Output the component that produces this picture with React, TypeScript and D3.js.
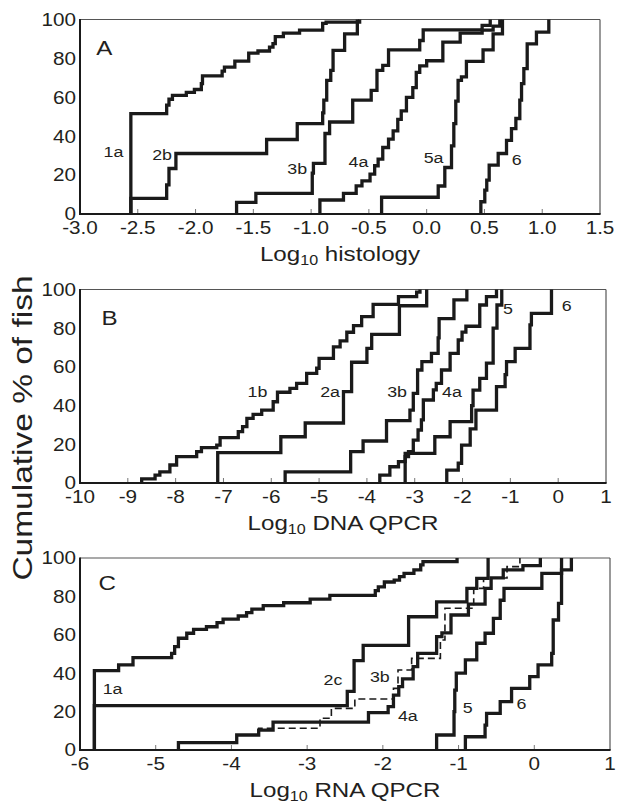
import React from 'react';
import * as d3 from 'd3';

type Pt = [number, number];
type Lbl = [string, number, number];

// Panel A: log10 histology. Each point is [log value, cumulative % reached at that value]
const histo1a: Pt[] = [
  [-2.56, 51.6], [-2.25, 56], [-2.23, 59], [-2.2, 61], [-2.08, 62.5], [-2.01, 64], [-1.95, 67], [-1.94, 71],
  [-1.77, 73.5], [-1.75, 75.5], [-1.66, 78.6], [-1.54, 82.7], [-1.46, 83.8], [-1.36, 85.8], [-1.33, 87.6],
  [-1.31, 91.2], [-1.24, 93], [-1.1, 94.5], [-0.9, 98], [-0.87, 98.7], [-0.58, 100],
];
const histo2b: Pt[] = [
  [-2.56, 8], [-2.25, 15], [-2.23, 23.4], [-2.17, 31.1], [-1.385, 38.3], [-1.12, 46.5], [-0.9, 52],
  [-0.89, 58.5], [-0.865, 68.7], [-0.83, 73.8], [-0.81, 84.1], [-0.71, 92.6], [-0.6, 100],
];
const histo3b: Pt[] = [
  [-1.645, 6], [-1.478, 10.6], [-0.99, 21], [-0.98, 26], [-0.88, 41.4], [-0.84, 47.3], [-0.64, 58.5],
  [-0.48, 63.6], [-0.43, 73.8], [-0.38, 76.4], [-0.33, 84.4], [-0.06, 89.2], [-0.03, 94.7], [0.48, 97], [0.55, 100],
];
const histo4a: Pt[] = [
  [-0.924, 7.2], [-0.72, 10.6], [-0.61, 14.5], [-0.56, 17], [-0.49, 20.5], [-0.45, 24.8], [-0.42, 28.2],
  [-0.38, 34.2], [-0.33, 38.5], [-0.29, 42.7], [-0.25, 48.7], [-0.22, 53], [-0.175, 60], [-0.12, 65],
  [-0.09, 72.8], [-0.06, 76.2], [0.0, 78.8], [0.14, 88.4], [0.29, 93], [0.48, 94.5], [0.575, 96.6], [0.633, 100],
];
const histo5a: Pt[] = [
  [-0.39, 8.6], [0.1, 14.4], [0.157, 23.9], [0.215, 35], [0.235, 46.5], [0.252, 58], [0.272, 68.7],
  [0.301, 70.5], [0.344, 78.5], [0.488, 84.4], [0.575, 92.6], [0.656, 100],
];
const histo6: Pt[] = [
  [0.469, 6.3], [0.503, 12.3], [0.52, 17.4], [0.541, 25.1], [0.619, 31.1], [0.691, 37.9], [0.734, 43.9],
  [0.772, 49.1], [0.806, 58.5], [0.821, 67], [0.841, 74.7], [0.87, 87.5], [0.95, 93.5], [1.057, 100],
];

// Panel B: log10 DNA QPCR
const dna1b: Pt[] = [
  [-8.71, 2.1], [-8.43, 4.1], [-8.33, 5.8], [-8.12, 9.3], [-7.98, 13.6], [-7.56, 16.2], [-7.46, 18.3],
  [-7.14, 19.6], [-7.07, 23.4], [-6.69, 26.5], [-6.6, 29.1], [-6.51, 33.4], [-6.38, 35.5], [-6.2, 37.7],
  [-5.96, 42], [-5.87, 46.9], [-5.61, 48.9], [-5.47, 51.5], [-5.26, 56.7], [-5.05, 59.3], [-5.0, 64.4],
  [-4.7, 70.4], [-4.56, 73.4], [-4.42, 77.9], [-4.28, 81.3], [-4.11, 86], [-3.87, 92.3], [-3.34, 96.3],
  [-2.96, 98.6], [-2.89, 100],
];
const dna2a: Pt[] = [
  [-7.12, 15.7], [-5.8, 23.9], [-5.29, 31], [-4.49, 47.2], [-4.32, 62.4], [-4.0, 69.6], [-3.9, 76.8],
  [-3.32, 91.6], [-2.75, 100],
];
const dna3b: Pt[] = [
  [-5.71, 5.8], [-4.34, 16.2], [-4.08, 21.7], [-3.59, 32.2], [-3.1, 37.7], [-3.03, 46.3], [-2.94, 58.4],
  [-2.85, 62.7], [-2.65, 67], [-2.51, 75], [-2.49, 85], [-2.18, 94.6], [-1.91, 100],
];
const dna4a: Pt[] = [
  [-3.73, 4.1], [-3.52, 8.4], [-3.34, 11], [-3.2, 13.6], [-3.13, 16.2], [-3.03, 22.2], [-2.93, 27.4],
  [-2.86, 32.6], [-2.82, 42.9], [-2.61, 48.1], [-2.55, 51.5], [-2.44, 58.4], [-2.26, 67], [-2.09, 73.9],
  [-2.01, 78], [-1.93, 81], [-1.64, 92], [-1.5, 96.3], [-1.29, 100],
];
const dna5: Pt[] = [
  [-3.2, 15.3], [-2.58, 23.9], [-2.26, 31.7], [-1.81, 40], [-1.78, 48], [-1.64, 54.1], [-1.5, 61.9],
  [-1.36, 80], [-1.28, 92], [-1.18, 100],
];
const dna6: Pt[] = [
  [-2.33, 6.7], [-2.09, 10.2], [-2.02, 19.6], [-1.84, 28], [-1.72, 37.7], [-1.29, 49.8], [-1.11, 56],
  [-1.08, 62.7], [-0.9, 69.6], [-0.59, 81.7], [-0.56, 87.7], [-0.14, 100],
];

// Panel C: log10 RNA QPCR
const rna1a: Pt[] = [
  [-5.81, 41.3], [-5.49, 44.3], [-5.3, 48.1], [-4.79, 50.3], [-4.75, 53.8], [-4.7, 58.2], [-4.59, 60.8],
  [-4.5, 62.8], [-4.33, 64.2], [-4.19, 66.3], [-4.11, 68.2], [-3.91, 69.8], [-3.8, 71.5], [-3.73, 73.4],
  [-3.58, 75.2], [-3.31, 76.7], [-2.96, 78.6], [-2.7, 80.5], [-2.1, 83], [-2.06, 85], [-1.98, 87.5],
  [-1.85, 88.5], [-1.78, 90.3], [-1.72, 92], [-1.59, 93.8], [-1.5, 96.4], [-1.47, 98.1], [-1.02, 100],
];
const rna2c: Pt[] = [
  [-5.81, 23.1], [-2.47, 30.5], [-2.38, 46.5], [-2.26, 54.5], [-1.66, 69.4], [-1.29, 77.2], [-0.89, 84.2],
  [-0.76, 89.4], [-0.61, 100],
];
const rna3b: Pt[] = [
  [-4.7, 3.8], [-3.93, 7.8], [-3.64, 11.3], [-2.83, 16.5], [-2.68, 21.7], [-2.37, 26.6], [-1.86, 32.1],
  [-1.8, 41.7], [-1.62, 47.7], [-1.24, 57.3], [-1.18, 73.8], [-0.8, 84.2], [-0.67, 89.6], [-0.36, 95.5],
  [-0.19, 100],
];
const rna4a: Pt[] = [
  [-4.7, 3.8], [-3.93, 7.8], [-3.64, 10.4], [-3.45, 14.5], [-2.19, 19.5], [-1.93, 22.6], [-1.86, 28.6],
  [-1.79, 33], [-1.74, 37], [-1.6, 43.4], [-1.54, 50.3], [-1.29, 59], [-1.22, 61], [-1.1, 70.3],
  [-0.87, 76], [-0.65, 84.2], [-0.57, 89.6], [-0.41, 93.8], [-0.15, 96], [0.08, 100],
];
const rna5: Pt[] = [
  [-1.29, 7.8], [-1.06, 20], [-1.05, 31.2], [-1.03, 40], [-0.91, 46.9], [-0.76, 55.6], [-0.65, 60.8],
  [-0.54, 68.6], [-0.45, 78], [-0.4, 84.2], [0.1, 92], [0.36, 100],
];
const rna6: Pt[] = [
  [-0.91, 6.9], [-0.65, 13], [-0.63, 19.1], [-0.45, 25.2], [-0.3, 32.1], [-0.06, 38.2], [0.05, 44.3],
  [0.23, 50.3], [0.25, 67.7], [0.32, 76.4], [0.36, 93.8], [0.49, 100],
];

// curve labels, in data units
const labelsA: Lbl[] = [['A', -2.79, 85.4], ['1a', -2.71, 32.3], ['2b', -2.29, 30.8], ['3b', -1.12, 23.6], ['4a', -0.59, 27.2], ['5a', 0.06, 29.2], ['6', 0.78, 28.2]];
const labelsB: Lbl[] = [['B', -9.38, 85.5], ['1b', -6.29, 47.5], ['2a', -4.77, 47], ['3b', -3.37, 47], ['4a', -2.22, 47], ['5', -1.05, 90], ['6', 0.18, 91.5]];
const labelsC: Lbl[] = [['C', -5.64, 87.2], ['1a', -5.57, 31.8], ['2c', -2.66, 36.5], ['3b', -2.04, 38.3], ['4a', -1.67, 17.7], ['5', -0.88, 22.1], ['6', -0.17, 24.2]];

const ticksA = [-3.0, -2.5, -2.0, -1.5, -1.0, -0.5, 0.0, 0.5, 1.0, 1.5];
const ticksB = [-10, -9, -8, -7, -6, -5, -4, -3, -2, -1, 0, 1];
const ticksC = [-6, -5, -4, -3, -2, -1, 0, 1];
const yTicks = [0, 20, 40, 60, 80, 100];

const FONT = 'Helvetica, Arial, "Liberation Sans", sans-serif';
const INK = '#231f20';
const WIDE = 1.15;

const Txt = ({ x, y, size, anchor = 'middle', rot = 0, sx = WIDE, dy = '0.35em', children }: any) => (
  <g transform={`translate(${x},${y}) rotate(${rot}) scale(${sx},1)`}>
    <text textAnchor={anchor} fontSize={size} fontFamily={FONT} fill={INK} dy={dy}>{children}</text>
  </g>
);

function Panel({ left, right, top, bottom, domain, ticks, fmt, title, series, labels }: any) {
  const x = d3.scaleLinear().domain(domain).range([left, right]);
  const y = d3.scaleLinear().domain([0, 100]).range([bottom, top]);
  const line = d3.line<Pt>().x(d => x(d[0])).y(d => y(d[1])).curve(d3.curveStepAfter);
  const mid = (left + right) / 2;

  return (
    <g>
      {/* frame: light top/right, heavier axes */}
      <line x1={left} x2={right} y1={top} y2={top} stroke="#555" strokeWidth={1.2} />
      <line x1={right} x2={right} y1={top} y2={bottom} stroke="#555" strokeWidth={1.2} />
      {ticks.slice(1, -1).map((t: number) => (
        <line key={t} x1={x(t)} x2={x(t)} y1={bottom} y2={bottom - 5} stroke="#777" strokeWidth={1} />
      ))}
      {series.map((s: any) => (
        <path key={s.name} d={line([[s.data[0][0], 0], ...s.data]) || ''} fill="none" stroke="#1a1a1a"
          strokeWidth={s.dashed ? 1.6 : 3.3} strokeDasharray={s.dashed ? '7 4' : undefined}
          strokeLinejoin="miter" strokeLinecap="butt" />
      ))}
      <line x1={left} x2={left} y1={top - 0.6} y2={bottom + 1} stroke="#1a1a1a" strokeWidth={2} />
      <line x1={left - 1} x2={right + 0.6} y1={bottom} y2={bottom} stroke="#1a1a1a" strokeWidth={2} />

      {yTicks.map(t => (
        <Txt key={t} x={left - 4} y={y(t)} size={18} anchor="end">{t}</Txt>
      ))}
      {ticks.map((t: number) => (
        <Txt key={t} x={x(t)} y={bottom + 14} size={18}>{fmt(t)}</Txt>
      ))}
      {labels.map((l: Lbl) => (
        <Txt key={l[0]} x={x(l[1])} y={y(l[2])} size={/^[A-C]$/.test(l[0]) ? 21 : 15.5}>{l[0]}</Txt>
      ))}
      <g transform={`translate(${mid},${bottom + 47}) scale(${WIDE},1)`}>
        <text textAnchor="middle" fontSize={21} fontFamily={FONT} fill={INK}>
          <tspan>Log</tspan>
          <tspan fontSize={14} dy={4}>10</tspan>
          <tspan dy={-4}>{' ' + title}</tspan>
        </text>
      </g>
    </g>
  );
}

export default function App() {
  return (
    <svg width={619} height={803} style={{ position: 'absolute', left: 0, top: 0, background: '#fff' }}>
      <Panel left={80} right={600} top={19.5} bottom={214} domain={[-3, 1.5]} ticks={ticksA}
        fmt={(v: number) => v.toFixed(1)} title="histology" labels={labelsA}
        series={[
          { name: '1a', data: histo1a }, { name: '2b', data: histo2b }, { name: '3b', data: histo3b },
          { name: '4a', data: histo4a }, { name: '5a', data: histo5a }, { name: '6', data: histo6 },
        ]} />
      <Panel left={80} right={606} top={289.5} bottom={483} domain={[-10, 1]} ticks={ticksB}
        fmt={(v: number) => String(v)} title="DNA QPCR" labels={labelsB}
        series={[
          { name: '1b', data: dna1b }, { name: '2a', data: dna2a }, { name: '3b', data: dna3b },
          { name: '4a', data: dna4a }, { name: '5', data: dna5 }, { name: '6', data: dna6 },
        ]} />
      <Panel left={80} right={610} top={558} bottom={750} domain={[-6, 1]} ticks={ticksC}
        fmt={(v: number) => String(v)} title="RNA QPCR" labels={labelsC}
        series={[
          { name: '1a', data: rna1a }, { name: '2c', data: rna2c }, { name: '4a', data: rna4a },
          { name: '5', data: rna5 }, { name: '6', data: rna6 }, { name: '3b', data: rna3b, dashed: true },
        ]} />
      <Txt x={23} y={428} size={27} rot={-90} sx={1.24}>Cumulative % of fish</Txt>
    </svg>
  );
}
